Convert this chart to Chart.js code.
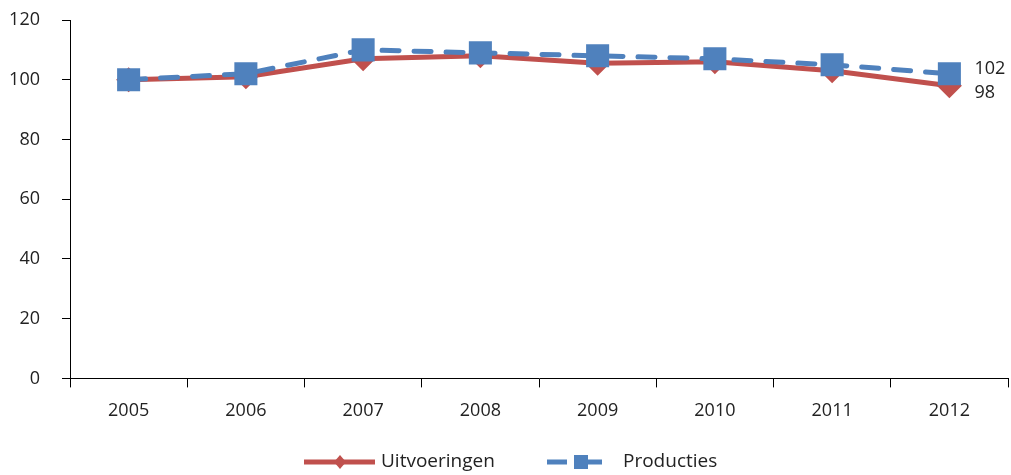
<!DOCTYPE html>
<html>
<head>
<meta charset="utf-8">
<script src="https://cdn.jsdelivr.net/npm/chart.js@4"></script>
<style>
  html, body { margin: 0; padding: 0; background: #fff; }
  #wrap { width: 1011px; height: 475px; }
</style>
</head>
<body>
<div id="wrap"><canvas id="myChart" width="1011" height="475"></canvas></div>
<script>
const jaren = ["2005", "2006", "2007", "2008", "2009", "2010", "2011", "2012"];
const uitvoeringen = [100, 101, 107, 108, 105.5, 106, 103, 98];
const producties = [100, 102, 110, 109, 108, 107, 105, 102];
const yTicks = [0, 20, 40, 60, 80, 100, 120];

const ROOD = "#C0504D";
const BLAUW = "#4F81BD";
const FONT = "'Open Sans', sans-serif";

// eindlabels en legenda tekenen
const extraTekst = {
  id: "extraTekst",
  afterDatasetsDraw(chart) {
    const ctx = chart.ctx;
    ctx.save();
    ctx.fillStyle = "#222";
    ctx.font = "18px " + FONT;
    ctx.textBaseline = "middle";
    ctx.textAlign = "left";
    const m0 = chart.getDatasetMeta(0).data;
    const m1 = chart.getDatasetMeta(1).data;
    const p1 = m1[m1.length - 1];
    const p0 = m0[m0.length - 1];
    ctx.fillText(String(producties[producties.length - 1]), p1.x + 25, p1.y - 5);
    ctx.fillText(String(uitvoeringen[uitvoeringen.length - 1]), p0.x + 25, p0.y + 7);

    // legenda
    const ly = 462;
    ctx.strokeStyle = ROOD;
    ctx.lineWidth = 5;
    ctx.beginPath();
    ctx.moveTo(304, ly);
    ctx.lineTo(375, ly);
    ctx.stroke();
    ctx.fillStyle = ROOD;
    ctx.beginPath();
    ctx.moveTo(340, ly - 7);
    ctx.lineTo(346, ly);
    ctx.lineTo(340, ly + 7);
    ctx.lineTo(334, ly);
    ctx.closePath();
    ctx.fill();
    ctx.fillStyle = "#222";
    ctx.font = "19px " + FONT;
    ctx.fillText("Uitvoeringen", 381, ly);

    ctx.strokeStyle = BLAUW;
    ctx.lineWidth = 5;
    ctx.beginPath();
    ctx.moveTo(547, ly);
    ctx.lineTo(567, ly);
    ctx.moveTo(586, ly);
    ctx.lineTo(602, ly);
    ctx.stroke();
    ctx.fillStyle = BLAUW;
    ctx.fillRect(574, ly - 7, 14, 14);
    ctx.fillStyle = "#222";
    ctx.fillText("Producties", 623, ly);
    ctx.restore();
  },
};

new Chart(document.getElementById("myChart"), {
  type: "line",
  data: {
    labels: jaren,
    datasets: [
      {
        label: "Uitvoeringen",
        data: uitvoeringen,
        order: 1,
        borderColor: ROOD,
        backgroundColor: ROOD,
        borderWidth: 5,
        pointStyle: "rectRot",
        pointRadius: 12.5,
        pointHoverRadius: 12.5,
        pointBorderWidth: 0,
        tension: 0,
      },
      {
        label: "Producties",
        data: producties,
        order: 0,
        borderColor: BLAUW,
        backgroundColor: BLAUW,
        borderWidth: 5,
        borderDash: [17, 15],
        borderCapStyle: "round",
        pointStyle: "rect",
        pointRadius: 16.3,
        pointHoverRadius: 16.3,
        pointBorderWidth: 0,
        tension: 0,
      },
    ],
  },
  options: {
    responsive: false,
    animation: false,
    layout: { autoPadding: false, padding: { top: 20, right: 3, bottom: 40, left: 0 } },
    plugins: {
      legend: { display: false },
      tooltip: { enabled: false },
    },
    scales: {
      x: {
        offset: true,
        afterFit: (s) => { s.paddingLeft = 0; s.paddingRight = 0; },
        grid: {
          offset: true,
          drawOnChartArea: false,
          drawTicks: true,
          tickLength: 9,
          color: "#000",
        },
        border: { display: true, color: "#000", width: 1 },
        ticks: {
          color: "#222",
          font: { family: FONT, size: 18 },
          padding: 13,
        },
      },
      y: {
        min: 0,
        max: 120,
        afterFit: (s) => { s.width = 70; s.paddingTop = 0; s.paddingBottom = 0; },
        afterBuildTicks: (s) => { s.ticks = yTicks.map((v) => ({ value: v })); },
        grid: {
          drawOnChartArea: false,
          drawTicks: true,
          tickLength: 8,
          color: "#000",
        },
        border: { display: true, color: "#000", width: 1 },
        ticks: {
          color: "#222",
          font: { family: FONT, size: 18 },
          padding: 22,
        },
      },
    },
  },
  plugins: [extraTekst],
});
</script>
</body>
</html>
